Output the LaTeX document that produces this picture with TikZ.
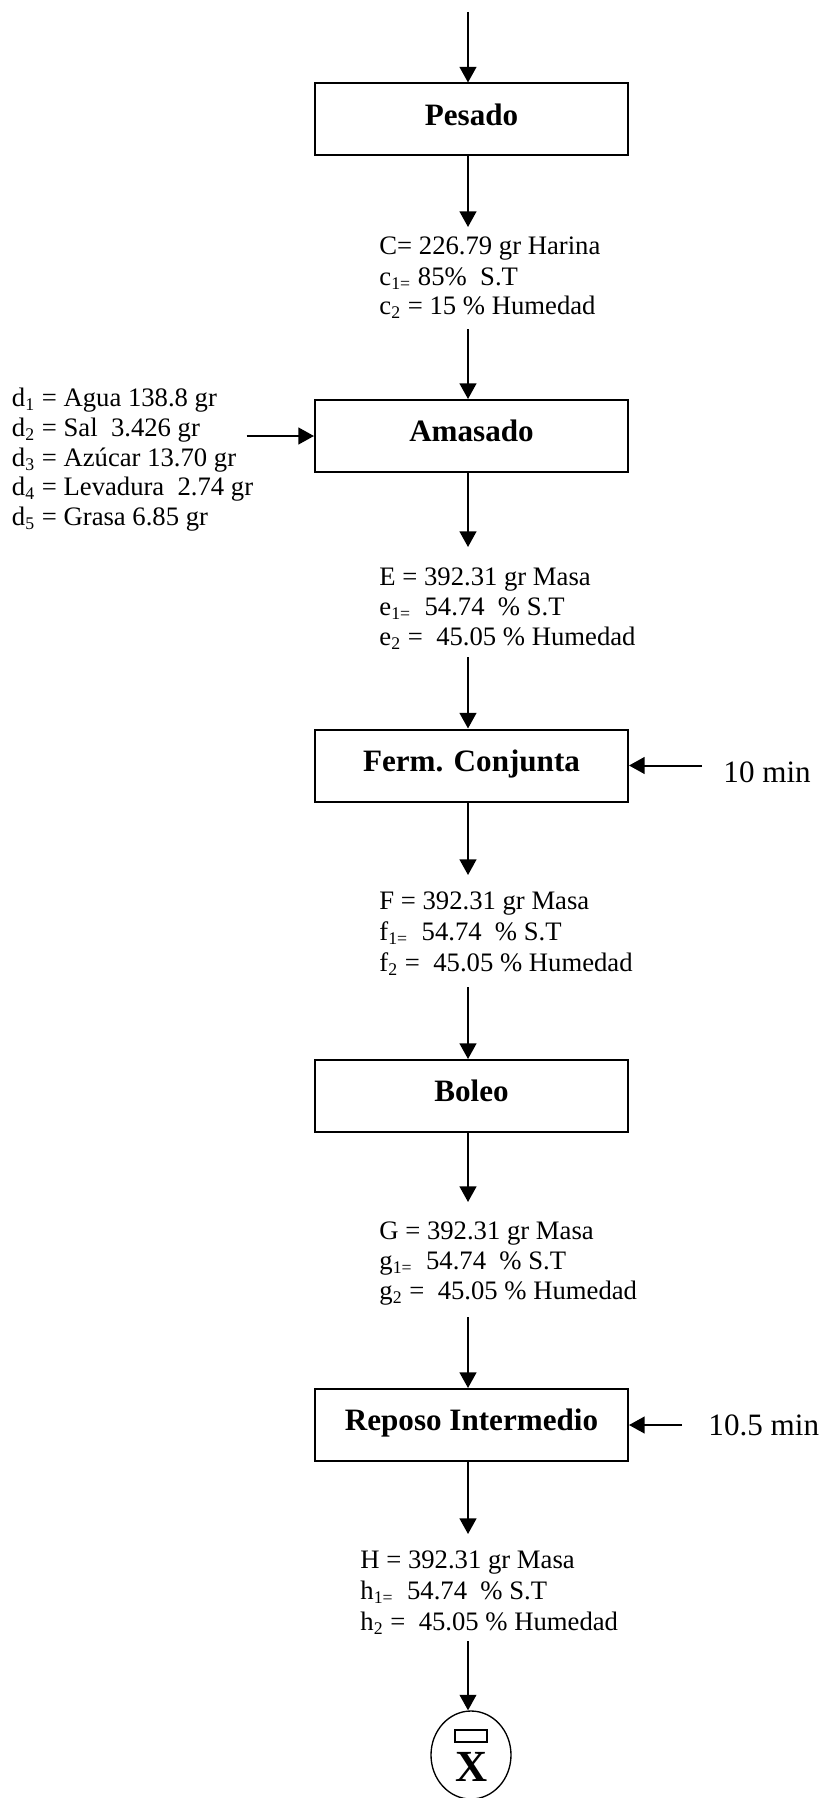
\documentclass[tikz,border=0pt]{standalone}
\usepackage{fontspec}
\setmainfont{Liberation Serif}
\usetikzlibrary{arrows.meta,shapes.geometric}
\begin{document}
\begin{tikzpicture}[x=0.45pt,y=-0.45pt,
  proc/.style={draw, line width=0.9pt, minimum width=140.85pt, minimum height=32.4pt,
    inner sep=0pt, text height=9.5pt, text depth=4.5pt, font=\fontsize{14}{16}\selectfont\bfseries},
  txt/.style={anchor=base west, inner sep=0pt, font=\fontsize{12}{14}\selectfont},
  side/.style={anchor=base west, inner sep=0pt, font=\fontsize{14}{16}\selectfont},
  flow/.style={line width=0.9pt, -{Triangle[width=7.5pt,length=7pt]}}]
\useasboundingbox (0,0) rectangle (825,1798);
\fill[white] (0,0) rectangle (825,1798);

% process boxes
\node[proc] (pes) at (471.5,119.5) {Pesado};
\node[proc] (ama) at (471.5,436) {Amasado};
\node[proc] (fer) at (471.5,765.5) {Ferm. Conjunta};
\node[proc] (bol) at (471.5,1096) {Boleo};
\node[proc] (rep) at (471.5,1425) {Reposo Intermedio};

% connector ellipse
\node[draw, ellipse, line width=0.6pt, minimum width=36pt, minimum height=39.6pt, inner sep=0pt] (conn) at (471,1755) {};
\node[draw, line width=0.5pt, minimum width=14.4pt, minimum height=5.4pt, inner sep=0pt] (tag) at (471,1736) {};
\node[inner sep=0pt, font=\fontsize{20}{20}\selectfont\bfseries] (xl) at (472,1767) {X};

% text blocks
\node[txt] (c1) at (379,255) {C= 226.79 gr Harina};
\node[txt] (c2) at (379,285) {c\textsubscript{1=} 85\%\ \ S.T};
\node[txt] (c3) at (379,315) {c\textsubscript{2} = 15 \% Humedad};

\node[txt] (e1) at (379,585) {E = 392.31 gr Masa};
\node[txt] (e2) at (379,615) {e\textsubscript{1=}\ \ 54.74\ \ \% S.T};
\node[txt] (e3) at (379,645) {e\textsubscript{2} =\ \ 45.05 \% Humedad};

\node[txt] (f1) at (379,909) {F = 392.31 gr Masa};
\node[txt] (f2) at (379,940) {f\textsubscript{1=}\ \ 54.74\ \ \% S.T};
\node[txt] (f3) at (379,971) {f\textsubscript{2} =\ \ 45.05 \% Humedad};

\node[txt] (g1) at (379,1239) {G = 392.31 gr Masa};
\node[txt] (g2) at (379,1269) {g\textsubscript{1=}\ \ 54.74\ \ \% S.T};
\node[txt] (g3) at (379,1299) {g\textsubscript{2} =\ \ 45.05 \% Humedad};

\node[txt] (h1) at (360,1568) {H = 392.31 gr Masa};
\node[txt] (h2) at (360,1599) {h\textsubscript{1=}\ \ 54.74\ \ \% S.T};
\node[txt] (h3) at (360,1630) {h\textsubscript{2} =\ \ 45.05 \% Humedad};

\node[txt] (d1) at (11.5,406) {d\textsubscript{1} = Agua 138.8 gr};
\node[txt] (d2) at (11.5,436) {d\textsubscript{2} = Sal\ \ 3.426 gr};
\node[txt] (d3) at (11.5,466) {d\textsubscript{3}\ = Azúcar 13.70 gr};
\node[txt] (d4) at (11.5,495) {d\textsubscript{4} = Levadura\ \ 2.74 gr};
\node[txt] (d5) at (11.5,525) {d\textsubscript{5} = Grasa 6.85 gr};

\node[side] (t1) at (723,782) {10 min};
\node[side] (t2) at (708,1435) {10.5 min};

% arrow start points
\coordinate (s0) at (468,12);
\coordinate (s1) at (468,227);
\coordinate (s2) at (468,329);
\coordinate (s3) at (468,547);
\coordinate (s4) at (468,657);
\coordinate (s5) at (468,875);
\coordinate (s6) at (468,987);
\coordinate (s7) at (468,1202);
\coordinate (s8) at (468,1317);
\coordinate (s9) at (468,1534);
\coordinate (s10) at (468,1641);
\coordinate (sd) at (246.7,436);
\coordinate (st1) at (702,765.5);
\coordinate (st2) at (682,1425);

\draw[flow] (s0) -- (s0 |- pes.north);
\draw[flow] (s1 |- pes.south) -- (s1);
\draw[flow] (s2) -- (s2 |- ama.north);
\draw[flow] (s3 |- ama.south) -- (s3);
\draw[flow] (s4) -- (s4 |- fer.north);
\draw[flow] (s5 |- fer.south) -- (s5);
\draw[flow] (s6) -- (s6 |- bol.north);
\draw[flow] (s7 |- bol.south) -- (s7);
\draw[flow] (s8) -- (s8 |- rep.north);
\draw[flow] (s9 |- rep.south) -- (s9);
\draw[flow] (s10) -- (s10 |- conn.north);
\draw[flow] (sd) -- (ama.west);
\draw[flow] (st1) -- (fer.east);
\draw[flow] (st2) -- (rep.east);
\end{tikzpicture}
\end{document}
